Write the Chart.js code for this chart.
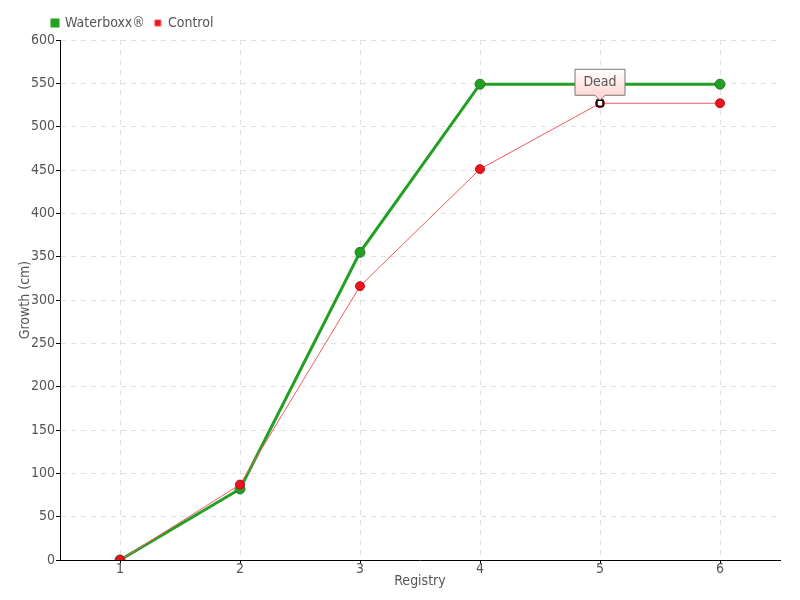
<!DOCTYPE html>
<html><head><meta charset="utf-8">
<script src="https://cdn.jsdelivr.net/npm/chart.js@4"></script>
<style>html,body{margin:0;padding:0;background:#fff}#w{width:800px;height:600px}</style>
</head><body><div id="w"><canvas id="c" width="800" height="600"></canvas></div>
<script>
const categories = ['1','2','3','4','5','6'];
const waterboxx = [0, 82, 355, 549, 549, 549];
const control = [0, 87, 316, 451, 527, 527];
const annotationIndex = 4;
const annotationText = 'Dead';
const FONT = '"DejaVu Sans Condensed", "Liberation Sans Narrow", sans-serif';

const deadPlugin = {
  id: 'dead',
  afterLayout(chart) {
    if (chart.legend) { chart.legend.left = 42; }
  },
  afterDatasetsDraw(chart) {
    const ctx = chart.ctx;
    const x = chart.scales.x.getPixelForValue(annotationIndex);
    const y = chart.scales.y.getPixelForValue(control[annotationIndex]);
    ctx.save();
    ctx.fillStyle = '#fff'; ctx.strokeStyle = '#000'; ctx.lineWidth = 1.5;
    ctx.fillRect(x - 3, y - 3, 6, 6); ctx.strokeRect(x - 3, y - 3, 6, 6);
    const w = 50, h = 26, bx = x - 25, by = y - 34;
    const g = ctx.createLinearGradient(0, by, 0, by + h);
    g.addColorStop(0, '#ffffff'); g.addColorStop(1, '#ffd6d6');
    ctx.beginPath();
    ctx.moveTo(bx, by); ctx.lineTo(bx + w, by); ctx.lineTo(bx + w, by + h);
    ctx.lineTo(x + 5, by + h); ctx.lineTo(x, by + h + 5); ctx.lineTo(x - 5, by + h);
    ctx.lineTo(bx, by + h); ctx.closePath();
    ctx.fillStyle = g; ctx.fill();
    ctx.strokeStyle = '#777'; ctx.lineWidth = 1; ctx.stroke();
    ctx.fillStyle = '#555'; ctx.font = '14px ' + FONT;
    ctx.textAlign = 'center'; ctx.textBaseline = 'middle';
    ctx.fillText(annotationText, x, by + h / 2);
    ctx.restore();
  }
};

new Chart(document.getElementById('c'), {
  type: 'line',
  data: {
    labels: categories,
    datasets: [
      {
        label: 'Waterboxx®', data: waterboxx,
        borderColor: '#22a022', borderWidth: 3,
        pointRadius: 5, pointBackgroundColor: '#22a022', pointBorderColor: '#2a7a2a', pointBorderWidth: 1,
        backgroundColor: '#22a022', tension: 0, order: 2
      },
      {
        label: 'Control', data: control,
        borderColor: '#f05a60', borderWidth: 1,
        pointRadius: 4.5, pointBackgroundColor: '#e8141e', pointBorderColor: '#c01018', pointBorderWidth: 1,
        backgroundColor: '#e8141e', tension: 0, order: 1
      }
    ]
  },
  options: {
    responsive: false, animation: false,
    layout: { padding: { left: 0, right: 20, top: 6, bottom: 0 } },
    plugins: {
      legend: {
        position: 'top', align: 'start',
        labels: {
          boxWidth: 6, boxHeight: 6, padding: 10, color: '#555', font: { family: FONT, size: 14 },
          sort: (a, b) => a.datasetIndex - b.datasetIndex
        }
      },
      tooltip: { enabled: false }
    },
    scales: {
      x: {
        offset: true,
        afterFit: (s) => { s.height = 40; },
        title: { display: true, text: 'Registry', color: '#555', font: { family: FONT, size: 14 }, padding: { top: 0, bottom: 10 } },
        ticks: { color: '#555', font: { family: FONT, size: 14 }, padding: -3 },
        grid: { color: '#e0e0e0', tickColor: '#000', tickLength: 4, tickBorderDash: [] },
        border: { color: '#000', width: 1, dash: [5, 5] }
      },
      y: {
        min: 0, max: 600,
        afterFit: (s) => { s.width = 60; },
        title: { display: true, text: 'Growth (cm)', color: '#555', font: { family: FONT, size: 14 }, padding: { top: 17, bottom: 0 } },
        ticks: { stepSize: 50, color: '#555', font: { family: FONT, size: 14 }, padding: 1 },
        grid: { color: '#e0e0e0', tickColor: '#000', tickLength: 4, tickBorderDash: [] },
        border: { color: '#000', width: 1, dash: [5, 5] }
      }
    }
  },
  plugins: [deadPlugin]
});
</script></body></html>
